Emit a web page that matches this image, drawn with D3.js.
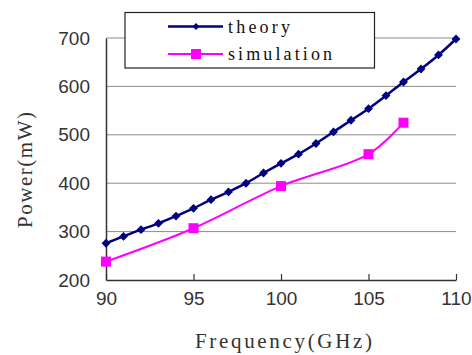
<!DOCTYPE html>
<html>
<head>
<meta charset="utf-8">
<script src="https://cdn.jsdelivr.net/npm/d3@7"></script>
<style>
  html, body { margin: 0; padding: 0; background: #fff; }
  svg { display: block; }
</style>
</head>
<body>
<svg id="chart" width="472" height="355"></svg>
<script>
// Output power versus frequency: analytic theory and simulation results
const theoryFreq = [90, 91, 92, 93, 94, 95, 96, 97, 98, 99, 100, 101, 102, 103, 104, 105, 106, 107, 108, 109, 110];
const theoryPower = [276, 290, 304, 317, 332, 348, 366, 382, 400, 421, 441, 460, 482, 506, 530, 554, 581, 609, 636, 665, 698];
const simFreq = [90, 95, 100, 105, 107];
const simPower = [238, 307, 394, 460, 525];
const xTicks = [90, 95, 100, 105, 110];
const yTicks = [200, 300, 400, 500, 600, 700];
const seriesNames = ["theory", "simulation"];

const svg = d3.select("#chart");
const plotLeft = 106, plotRight = 456, plotTop = 38, plotBottom = 280;

const x = d3.scaleLinear().domain([90, 110]).range([plotLeft, plotRight]);
const y = d3.scaleLinear().domain([200, 700]).range([plotBottom, plotTop]);

const titleFont = "'Liberation Serif', 'DejaVu Serif', serif";
const sansFont = "'Liberation Sans', Arial, sans-serif";

// horizontal gridlines
svg.append("g")
  .selectAll("line")
  .data(yTicks.filter(d => d > 200))
  .join("line")
  .attr("x1", plotLeft).attr("x2", plotRight)
  .attr("y1", d => y(d)).attr("y2", d => y(d))
  .attr("stroke", "#8c8c8c").attr("stroke-width", 1);

// x axis with ticks pointing into the plot
const xAxis = svg.append("g")
  .attr("transform", `translate(0,${plotBottom})`)
  .call(d3.axisBottom(x).tickValues(xTicks).tickSizeInner(-6).tickSizeOuter(0).tickPadding(12));
xAxis.select(".domain").attr("stroke", "#333").attr("stroke-width", 1.5);
xAxis.selectAll(".tick line").attr("stroke", "#333").attr("stroke-width", 1.2);
xAxis.selectAll(".tick text")
  .attr("font-family", sansFont).attr("font-size", 19).attr("fill", "#333")
  .attr("dy", "0.71em");

// y axis
const yAxis = svg.append("g")
  .attr("transform", `translate(${plotLeft},0)`)
  .call(d3.axisLeft(y).tickValues(yTicks).tickSize(0).tickPadding(16));
yAxis.select(".domain").attr("stroke", "#333").attr("stroke-width", 1.5);
yAxis.selectAll(".tick text")
  .attr("font-family", sansFont).attr("font-size", 19).attr("fill", "#333");

// axis titles (serif, spaced out to an even character pitch)
svg.append("text")
  .attr("x", 195).attr("y", 348)
  .attr("textLength", 177).attr("lengthAdjust", "spacing")
  .attr("font-family", titleFont).attr("font-size", 21).attr("fill", "#333")
  .text("Frequency(GHz)");

svg.append("text")
  .attr("transform", "translate(32,228) rotate(-90)")
  .attr("textLength", 116).attr("lengthAdjust", "spacing")
  .attr("font-family", titleFont).attr("font-size", 21).attr("fill", "#333")
  .text("Power(mW)");

// series
const theory = theoryFreq.map((f, i) => ({ f, p: theoryPower[i] }));
const sim = simFreq.map((f, i) => ({ f, p: simPower[i] }));

const line = d3.line().x(d => x(d.f)).y(d => y(d.p)).curve(d3.curveCatmullRom.alpha(0.5));

svg.append("path").datum(sim)
  .attr("d", line).attr("fill", "none")
  .attr("stroke", "#ff00ff").attr("stroke-width", 2);

svg.append("path").datum(theory)
  .attr("d", line).attr("fill", "none")
  .attr("stroke", "#000080").attr("stroke-width", 2.5);

const diamond = d3.symbol().type(d3.symbolDiamond2).size(50);

svg.append("g").selectAll("path")
  .data(theory).join("path")
  .attr("transform", d => `translate(${x(d.f)},${y(d.p)})`)
  .attr("d", diamond).attr("fill", "#000080");

svg.append("g").selectAll("rect")
  .data(sim).join("rect")
  .attr("x", d => x(d.f) - 5).attr("y", d => y(d.p) - 5)
  .attr("width", 10).attr("height", 10)
  .attr("fill", "#ff00ff");

// legend
const legend = svg.append("g");
legend.append("rect")
  .attr("x", 125).attr("y", 12.5).attr("width", 249.5).attr("height", 55.5)
  .attr("fill", "#fff").attr("stroke", "#222").attr("stroke-width", 1.2);

const legendRows = [
  { name: seriesNames[0], color: "#000080", width: 2.5, ly: 26.5, ty: 32.5, len: 62 },
  { name: seriesNames[1], color: "#ff00ff", width: 2, ly: 54, ty: 60, len: 104 }
];

legendRows.forEach((r, i) => {
  legend.append("line")
    .attr("x1", 168).attr("x2", 223).attr("y1", r.ly).attr("y2", r.ly)
    .attr("stroke", r.color).attr("stroke-width", r.width);
  if (i === 0) {
    legend.append("path")
      .attr("transform", `translate(196,${r.ly})`)
      .attr("d", d3.symbol().type(d3.symbolDiamond2).size(30)).attr("fill", r.color);
  } else {
    legend.append("rect")
      .attr("x", 191).attr("y", r.ly - 5).attr("width", 10).attr("height", 10)
      .attr("fill", r.color);
  }
  legend.append("text")
    .attr("x", 228).attr("y", r.ty)
    .attr("textLength", r.len).attr("lengthAdjust", "spacing")
    .attr("font-family", titleFont).attr("font-size", 18).attr("fill", "#111")
    .text(r.name);
});
</script>
</body>
</html>
